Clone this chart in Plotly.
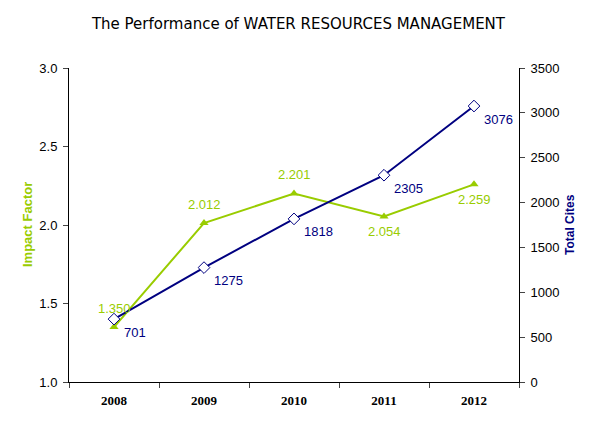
import plotly.graph_objects as go

years = ["2008", "2009", "2010", "2011", "2012"]
impact_factor = [1.350, 2.012, 2.201, 2.054, 2.259]
total_cites = [701, 1275, 1818, 2305, 3076]
if_label_above = [True, True, True, False, False]

green = "#99CC00"
navy = "#000080"

fig = go.Figure()

# impact factor on the left axis
fig.add_trace(go.Scatter(
    x=years, y=impact_factor, mode="lines+markers",
    line=dict(color=green, width=2),
    marker=dict(symbol="triangle-up", size=8, color=green),
    cliponaxis=False, showlegend=False,
))

# total cites on the right axis
fig.add_trace(go.Scatter(
    x=years, y=total_cites, mode="lines+markers", yaxis="y2",
    line=dict(color=navy, width=2),
    marker=dict(symbol="diamond", size=9, color="white", line=dict(color=navy, width=1)),
    cliponaxis=False, showlegend=False,
))

# data labels (x given as category index)
for i, (v, above) in enumerate(zip(impact_factor, if_label_above)):
    fig.add_annotation(x=i, y=v, xref="x", yref="y", text="%.3f" % v,
                       showarrow=False, yshift=19 if above else -15,
                       font=dict(color=green, size=13, family="Liberation Sans"))
for i, v in enumerate(total_cites):
    fig.add_annotation(x=i, y=v, xref="x", yref="y2", text=str(v),
                       showarrow=False, xanchor="left", xshift=8, yshift=-13,
                       font=dict(color=navy, size=13, family="Liberation Sans"))

# axis titles
fig.add_annotation(x=0, y=0.5, xref="paper", yref="paper", xshift=-42, xanchor="center",
                   text="Impact Factor", textangle=-90, showarrow=False,
                   font=dict(family="Liberation Sans", size=13, color=green, weight="bold"))
fig.add_annotation(x=1, y=0.5, xref="paper", yref="paper", xshift=51, xanchor="center",
                   text="Total Cites", textangle=-90, showarrow=False,
                   font=dict(family="Liberation Sans", size=12, color=navy, weight="bold"))

fig.update_layout(
    width=591, height=420,
    margin=dict(l=61, r=80, t=60, b=46, autoexpand=False),
    paper_bgcolor="white", plot_bgcolor="white",
    title=dict(text="The Performance of WATER RESOURCES MANAGEMENT",
               xref="container", x=0.4915, xanchor="center",
               yref="container", y=0.962, yanchor="middle",
               font=dict(size=15, color="black", family="DejaVu Sans")),
    xaxis=dict(type="category", range=[-0.5, 4.5], tickson="boundaries",
               ticks="outside", ticklen=5, tickangle=0, ticklabelstandoff=6,
               showline=True, linecolor="black", linewidth=1, showgrid=False, automargin=False,
               tickfont=dict(family="Liberation Serif", size=13, color="black", weight="bold")),
    yaxis=dict(range=[1.0, 3.0], dtick=0.5, tickformat=".1f", automargin=False,
               ticks="outside", ticklen=5, ticklabelstandoff=3,
               showline=True, linecolor="black", showgrid=False, zeroline=False,
               tickfont=dict(family="Liberation Sans", size=13, color="black")),
    yaxis2=dict(range=[0, 3500], dtick=500, overlaying="y", side="right", automargin=False,
                ticks="outside", ticklen=5, ticklabelstandoff=3,
                showline=True, linecolor="black", showgrid=False, zeroline=False,
                tickfont=dict(family="Liberation Sans", size=13, color="black")),
)

fig.write_html("out.html")
